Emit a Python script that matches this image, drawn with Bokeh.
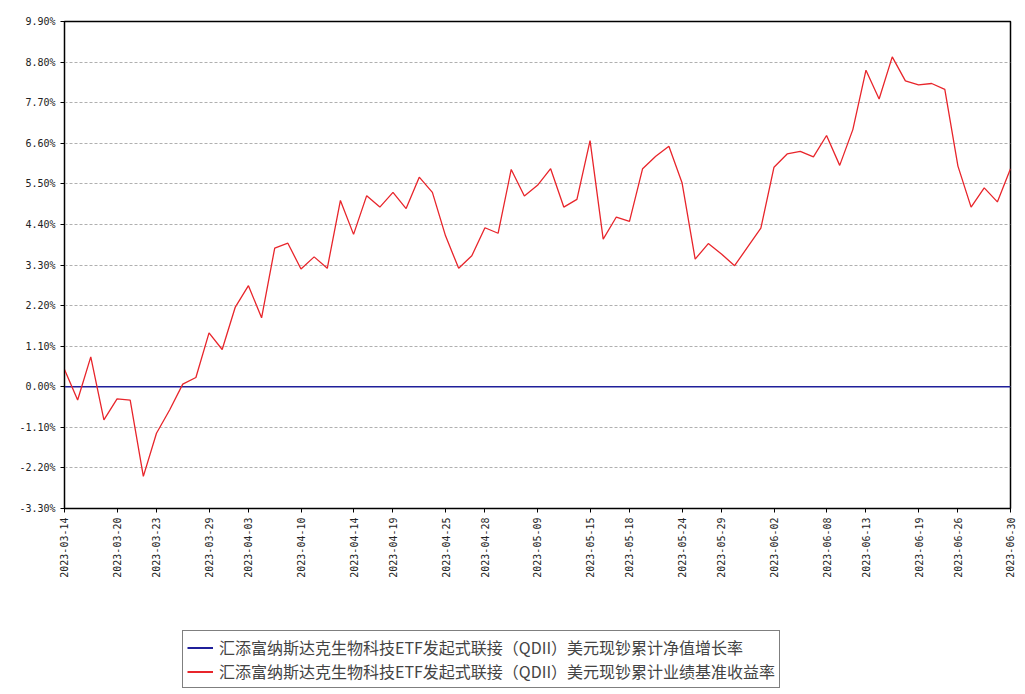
import pandas as pd
from bokeh.plotting import figure
from bokeh.layouts import column
from bokeh.models import FixedTicker, Legend, LegendItem, CustomJSTickFormatter
from bokeh.embed import file_html
from bokeh.resources import INLINE

holidays = ["2023-04-05", "2023-05-01", "2023-05-02", "2023-05-03", "2023-06-22", "2023-06-23"]
dates = [d.strftime("%Y-%m-%d") for d in pd.bdate_range("2023-03-14", "2023-06-30")
         if d.strftime("%Y-%m-%d") not in holidays]

benchmark = [0.47, -0.36, 0.81, -0.90, -0.33, -0.36, -2.43, -1.26, -0.63, 0.07,
             0.25, 1.46, 1.01, 2.16, 2.74, 1.87, 3.76, 3.89, 3.19, 3.52,
             3.21, 5.05, 4.13, 5.18, 4.87, 5.27, 4.83, 5.68, 5.27, 4.09,
             3.21, 3.55, 4.31, 4.16, 5.89, 5.17, 5.46, 5.91, 4.87, 5.08,
             6.67, 4.00, 4.60, 4.48, 5.91, 6.25, 6.52, 5.53, 3.46, 3.88,
             3.60, 3.28, 3.79, 4.30, 5.95, 6.31, 6.38, 6.23, 6.81, 6.00,
             6.97, 8.58, 7.80, 8.94, 8.29, 8.18, 8.22, 8.06, 5.98, 4.87,
             5.39, 5.01, 5.91]
nav = [0.0] * len(dates)
y_ticks = [-3.3, -2.2, -1.1, 0.0, 1.1, 2.2, 3.3, 4.4, 5.5, 6.6, 7.7, 8.8, 9.9]
series_names = ["汇添富纳斯达克生物科技ETF发起式联接（QDII）美元现钞累计净值增长率",
                "汇添富纳斯达克生物科技ETF发起式联接（QDII）美元现钞累计业绩基准收益率"]
colors = ["#1f1f9a", "#e8252b"]

n = len(dates)
xs = list(range(n))
x_ticks = sorted(set(round(i * (n - 1) / 20) for i in range(21)))

p = figure(width=1017, height=580, output_backend="svg", toolbar_location=None,
           x_range=(0, n - 1), y_range=(-3.3, 9.9),
           min_border_left=64, min_border_right=7, min_border_top=21, min_border_bottom=71)
p.outline_line_color = "black"
p.outline_line_width = 1.5

p.line(xs, nav, line_color=colors[0], line_width=1.5)
p.line(xs, benchmark, line_color=colors[1], line_width=1.3)

p.xgrid.visible = False
p.ygrid.grid_line_color = "#b0b0b0"
p.ygrid.grid_line_dash = "3 2"
p.ygrid.ticker = FixedTicker(ticks=y_ticks)

p.yaxis.ticker = FixedTicker(ticks=y_ticks)
p.yaxis.formatter = CustomJSTickFormatter(code="return tick.toFixed(2) + '%';")
p.xaxis.ticker = FixedTicker(ticks=x_ticks)
p.xaxis.major_label_overrides = {i: dates[i] for i in x_ticks}
p.xaxis.major_label_orientation = 3.14159 / 2
for ax in (p.xaxis, p.yaxis):
    ax.major_label_text_font = "DejaVu Sans Mono"
    ax.major_label_text_font_size = "10px"
    ax.major_label_text_color = "#222222"
    ax.axis_line_color = "black"
    ax.major_tick_line_color = "black"
    ax.minor_tick_line_color = None
    ax.major_tick_out = 4
    ax.major_tick_in = 0

# legend panel
p2 = figure(width=1017, height=108, output_backend="svg", toolbar_location=None,
            x_range=(0, 1), y_range=(0, 1), min_border=0)
p2.axis.visible = False
p2.grid.visible = False
p2.outline_line_color = None
l1 = p2.line([5, 6], [5, 6], line_color=colors[0], line_width=2)
l2 = p2.line([5, 6], [5, 6], line_color=colors[1], line_width=2)
legend = Legend(items=[LegendItem(label=series_names[0], renderers=[l1]),
                       LegendItem(label=series_names[1], renderers=[l2])],
                location=(118, 0), orientation="vertical")
legend.label_text_font = "Noto Sans CJK SC"
legend.label_text_font_size = "16px"
legend.border_line_color = "black"
legend.border_line_width = 1
legend.spacing = 0
legend.padding = 4
legend.label_standoff = 6
legend.glyph_width = 26
legend.label_height = 17
legend.glyph_height = 17
legend.margin = 0
p2.add_layout(legend, "center")

open("out.html", "w").write(file_html(column(p, p2, spacing=0), INLINE))
